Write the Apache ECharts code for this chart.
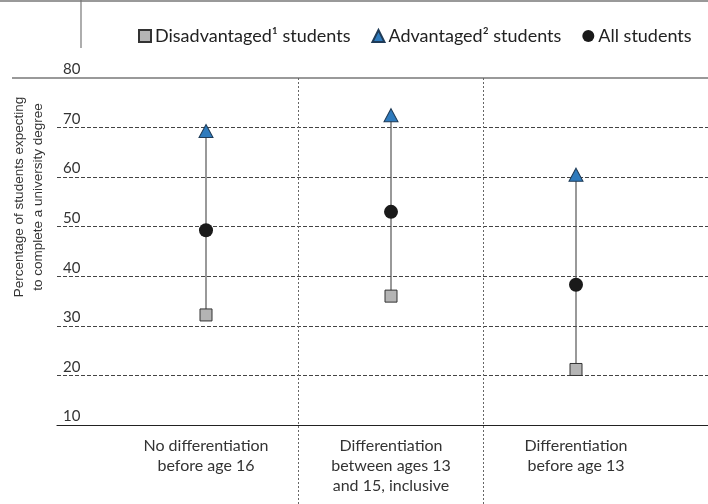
<!DOCTYPE html>
<html>
<head>
<meta charset="utf-8">
<script src="https://cdn.jsdelivr.net/npm/echarts@6/dist/echarts.min.js"></script>
<style>
html,body{margin:0;padding:0;background:#fff;}
#chart{width:708px;height:504px;}
</style>
</head>
<body>
<div id="chart"></div>
<script>
// categories (x axis)
var categories = [
	'No differentiation\nbefore age 16',
	'Differentiation\nbetween ages 13\nand 15, inclusive',
	'Differentiation\nbefore age 13'
];
// series values
var disadvantaged = [32.2, 36.0, 21.2];
var advantaged = [69.3, 72.5, 60.5];
var allStudents = [49.3, 53.0, 38.3];
// y axis
var yMin = 10, yMax = 80, yStep = 10;
var yTitle = 'Percentage of students expecting\nto complete a university degree';

var FONT = 'Lato';
var chart = echarts.init(document.getElementById('chart'));

var opt = {
	animation: false,
	backgroundColor: '#fff',
	legend: {
		left: 133,
		top: 22,
		itemWidth: 12,
		itemHeight: 12,
		itemGap: 21,
		textStyle: {fontFamily: FONT, fontSize: 18, color: '#222', padding: [0, 0, 0, -1]},
		data: ['Disadvantaged¹ students', 'Advantaged² students', 'All students']
	},
	grid: [
		{left: 57, right: 0, top: 78, bottom: 79},
		{left: 113.5, right: 39.5, top: 78, bottom: 79}
	],
	xAxis: [
		{
			gridIndex: 0, type: 'value', min: 0, max: 1,
			axisLine: {show: true, lineStyle: {color: '#222', width: 1.2}},
			axisTick: {show: false}, axisLabel: {show: false}, splitLine: {show: false}
		},
		{
			gridIndex: 1, type: 'category', data: categories, boundaryGap: true,
			axisLine: {show: false}, axisTick: {show: false}, splitLine: {show: false},
			axisLabel: {fontFamily: FONT, fontSize: 16, lineHeight: 20, color: '#333', margin: 11, interval: 0}
		}
	],
	yAxis: [
		{
			gridIndex: 0, type: 'value', min: yMin, max: yMax, interval: yStep,
			axisLine: {show: false}, axisTick: {show: false},
			axisLabel: {inside: true, margin: 6, verticalAlign: 'bottom', fontFamily: FONT, fontSize: 15, color: '#333', padding: [0, 0, 1, 0]},
			splitLine: {show: true, showMinLine: false, showMaxLine: false, lineStyle: {color: '#444', type: [4, 2], width: 1}}
		},
		{
			gridIndex: 1, type: 'value', min: yMin, max: yMax, interval: yStep,
			show: false, splitLine: {show: false}
		}
	],
	graphic: [
		{type: 'line', shape: {x1: 0, y1: 1, x2: 708, y2: 1}, style: {stroke: '#777', lineWidth: 1.5}},
		{type: 'line', shape: {x1: 81, y1: 0, x2: 81, y2: 48}, style: {stroke: '#777', lineWidth: 1.2}},
		{type: 'line', shape: {x1: 12, y1: 78, x2: 708, y2: 78}, style: {stroke: '#777', lineWidth: 1.5}},
		{
			type: 'text', x: 28.5, y: 197, rotation: Math.PI / 2,
			style: {text: yTitle, fontFamily: 'Liberation Sans', fontSize: 13.5, lineHeight: 19, fill: '#333', align: 'center', verticalAlign: 'middle'}
		}
	],
	series: [
		{
			// category separators
			type: 'custom', xAxisIndex: 1, yAxisIndex: 1, silent: true, z: 1,
			data: [0, 1],
			renderItem: function(params, api){
				var idx = api.value(0);
				var x = api.coord([idx, yMax])[0] + api.size([1, 0])[0] / 2;
				return {
					type: 'line',
					shape: {x1: x, y1: params.coordSys.y, x2: x, y2: api.getHeight()},
					style: {stroke: '#666', lineWidth: 1, lineDash: [2, 2]}
				};
			},
			encode: {x: 0}
		},
		{
			// range lines
			type: 'custom', xAxisIndex: 1, yAxisIndex: 1, silent: true, z: 2,
			data: categories.map(function(c, i){ return [i, disadvantaged[i], advantaged[i]]; }),
			renderItem: function(params, api){
				var p1 = api.coord([api.value(0), api.value(1)]);
				var p2 = api.coord([api.value(0), api.value(2)]);
				return {
					type: 'line',
					shape: {x1: p1[0], y1: p1[1], x2: p2[0], y2: p2[1]},
					style: {stroke: '#555', lineWidth: 1.2}
				};
			},
			encode: {x: 0, y: [1, 2]}
		},
		{
			name: 'Disadvantaged¹ students', type: 'scatter', xAxisIndex: 1, yAxisIndex: 1, z: 3,
			symbol: 'rect', symbolSize: 12,
			itemStyle: {color: '#b4b4b4', borderColor: '#333', borderWidth: 1, opacity: 1},
			data: disadvantaged
		},
		{
			name: 'Advantaged² students', type: 'scatter', xAxisIndex: 1, yAxisIndex: 1, z: 3,
			symbol: 'triangle', symbolSize: [14, 13],
			itemStyle: {color: '#2f7bbd', borderColor: '#1f3b57', borderWidth: 1, opacity: 1},
			data: advantaged
		},
		{
			name: 'All students', type: 'scatter', xAxisIndex: 1, yAxisIndex: 1, z: 3,
			symbol: 'circle', symbolSize: 14,
			itemStyle: {color: '#1a1a1a', opacity: 1},
			data: allStudents
		}
	]
};
chart.setOption(opt);
</script>
</body>
</html>
